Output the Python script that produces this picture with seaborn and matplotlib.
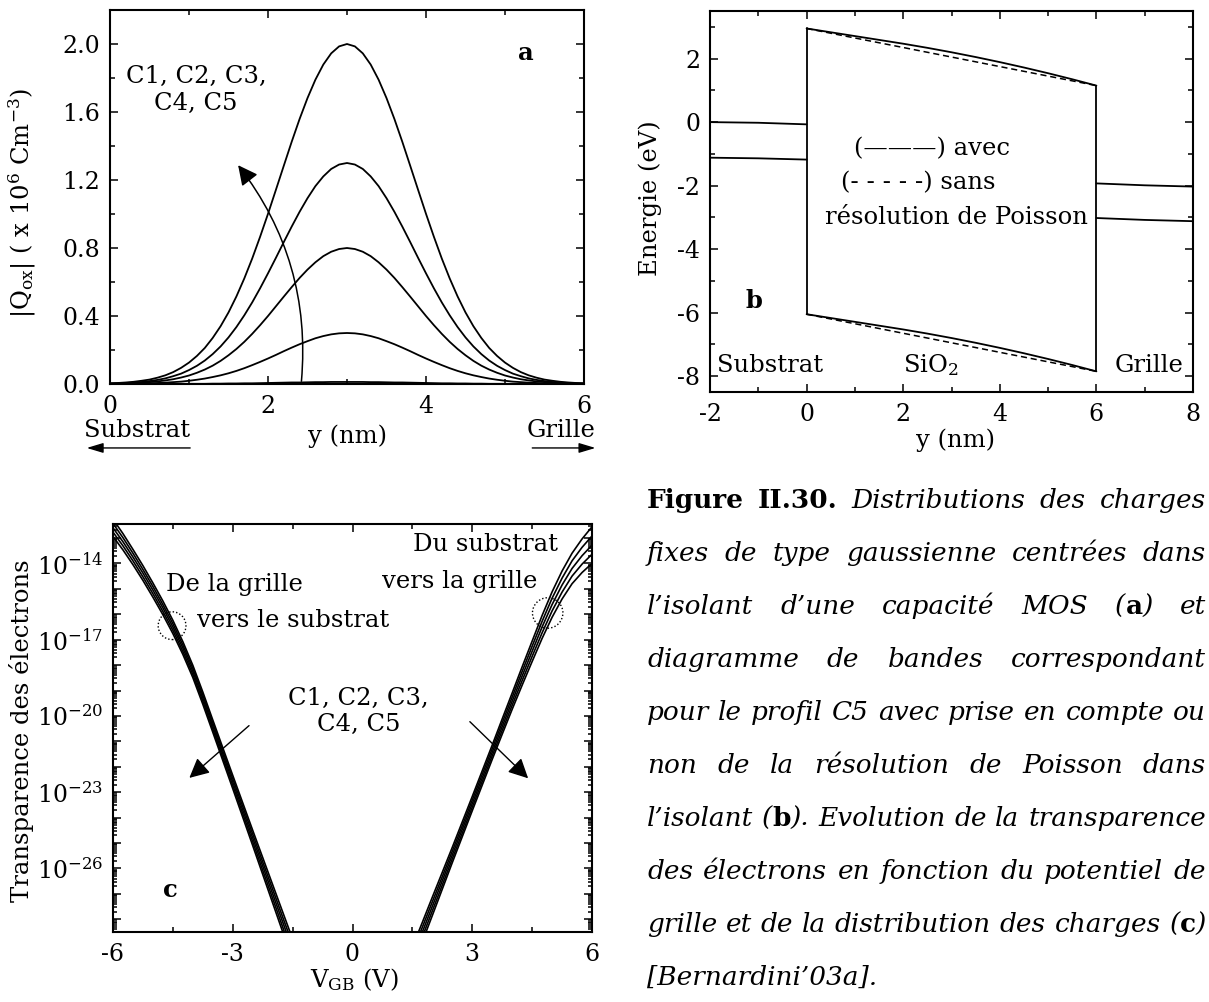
import math
import matplotlib
matplotlib.use("Agg")
import matplotlib.pyplot as plt
import matplotlib.ticker as mticker
from matplotlib.patches import FancyArrowPatch
import seaborn as sns

# ---------------- panel a : gaussian fixed-charge profiles in the oxide
a_y = [0.0, 0.1, 0.2, 0.3, 0.4, 0.5, 0.6, 0.7, 0.8, 0.9, 1.0, 1.1, 1.2, 1.3, 1.4, 1.5,
       1.6, 1.7, 1.8, 1.9, 2.0, 2.1, 2.2, 2.3, 2.4, 2.5, 2.6, 2.7, 2.8, 2.9, 3.0,
       3.1, 3.2, 3.3, 3.4, 3.5, 3.6, 3.7, 3.8, 3.9, 4.0, 4.1, 4.2, 4.3, 4.4, 4.5,
       4.6, 4.7, 4.8, 4.9, 5.0, 5.1, 5.2, 5.3, 5.4, 5.5, 5.6, 5.7, 5.8, 5.9, 6.0]
a_c1 = [0.000, 0.000, 0.000, 0.000, 0.000, 0.000, 0.000, 0.000, 0.000, 0.001, 0.001, 0.001, 0.001, 0.002, 0.002, 0.003,
        0.003, 0.004, 0.004, 0.005, 0.006, 0.007, 0.008, 0.009, 0.009, 0.010, 0.011, 0.011, 0.012, 0.012, 0.012,
        0.012, 0.012, 0.011, 0.011, 0.010, 0.009, 0.009, 0.008, 0.007, 0.006, 0.005, 0.004, 0.004, 0.003, 0.003,
        0.002, 0.002, 0.001, 0.001, 0.001, 0.001, 0.000, 0.000, 0.000, 0.000, 0.000, 0.000, 0.000, 0.000, 0.000]
a_c2 = [0.001, 0.001, 0.001, 0.002, 0.003, 0.004, 0.006, 0.008, 0.011, 0.014, 0.019, 0.025, 0.032, 0.041, 0.051, 0.063,
        0.077, 0.093, 0.111, 0.130, 0.150, 0.171, 0.193, 0.214, 0.234, 0.252, 0.269, 0.282, 0.292, 0.298, 0.300,
        0.298, 0.292, 0.282, 0.269, 0.252, 0.234, 0.214, 0.193, 0.171, 0.150, 0.130, 0.111, 0.093, 0.077, 0.063,
        0.051, 0.041, 0.032, 0.025, 0.019, 0.014, 0.011, 0.008, 0.006, 0.004, 0.003, 0.002, 0.001, 0.001, 0.001]
a_c3 = [0.002, 0.002, 0.004, 0.005, 0.007, 0.011, 0.015, 0.021, 0.028, 0.038, 0.050, 0.066, 0.085, 0.108, 0.136, 0.169,
        0.206, 0.248, 0.295, 0.346, 0.400, 0.457, 0.514, 0.570, 0.624, 0.673, 0.716, 0.752, 0.778, 0.794, 0.800,
        0.794, 0.778, 0.752, 0.716, 0.673, 0.624, 0.570, 0.514, 0.457, 0.400, 0.346, 0.295, 0.248, 0.206, 0.169,
        0.136, 0.108, 0.085, 0.066, 0.050, 0.038, 0.028, 0.021, 0.015, 0.011, 0.007, 0.005, 0.004, 0.002, 0.002]
a_c4 = [0.003, 0.004, 0.006, 0.008, 0.012, 0.017, 0.024, 0.033, 0.046, 0.061, 0.082, 0.107, 0.138, 0.176, 0.221, 0.274,
        0.335, 0.404, 0.480, 0.563, 0.651, 0.742, 0.835, 0.926, 1.013, 1.093, 1.164, 1.221, 1.265, 1.291, 1.300,
        1.291, 1.265, 1.221, 1.164, 1.093, 1.013, 0.926, 0.835, 0.742, 0.651, 0.563, 0.480, 0.404, 0.335, 0.274,
        0.221, 0.176, 0.138, 0.107, 0.082, 0.061, 0.046, 0.033, 0.024, 0.017, 0.012, 0.008, 0.006, 0.004, 0.003]
a_c5 = [0.004, 0.006, 0.009, 0.013, 0.019, 0.026, 0.037, 0.051, 0.070, 0.095, 0.126, 0.165, 0.212, 0.271, 0.340, 0.421,
        0.515, 0.621, 0.738, 0.866, 1.001, 1.142, 1.284, 1.425, 1.559, 1.682, 1.790, 1.879, 1.945, 1.986, 2.000,
        1.986, 1.945, 1.879, 1.790, 1.682, 1.559, 1.425, 1.284, 1.142, 1.001, 0.866, 0.738, 0.621, 0.515, 0.421,
        0.340, 0.271, 0.212, 0.165, 0.126, 0.095, 0.070, 0.051, 0.037, 0.026, 0.019, 0.013, 0.009, 0.006, 0.004]

# ---------------- panel b : band diagram for profile C5
b_x_sub = [-2.0, -1.0, 0.0]
b_cb_sub = [0.0, -0.02, -0.07]
b_vb_sub = [-1.12, -1.14, -1.18]
b_x_ox = [0.0, 0.5, 1.0, 1.5, 2.0, 2.5, 3.0, 3.5, 4.0, 4.5, 5.0, 5.5, 6.0]
b_cb_avec = [2.95, 2.83, 2.71, 2.59, 2.47, 2.34, 2.20, 2.05, 1.89, 1.72, 1.54, 1.35, 1.15]
b_cb_sans = [2.95, 2.80, 2.65, 2.50, 2.35, 2.20, 2.05, 1.90, 1.75, 1.60, 1.45, 1.30, 1.15]
b_vb_avec = [-6.05, -6.17, -6.29, -6.41, -6.53, -6.66, -6.80, -6.95, -7.11, -7.28, -7.46, -7.65, -7.85]
b_vb_sans = [-6.05, -6.20, -6.35, -6.50, -6.65, -6.80, -6.95, -7.10, -7.25, -7.40, -7.55, -7.70, -7.85]
b_x_gate = [6.0, 7.0, 8.0]
b_cb_gate = [-1.93, -1.99, -2.03]
b_vb_gate = [-3.02, -3.08, -3.12]

# ---------------- panel c : electron transparency (log10 of the values)
c_v_neg = [-6.0, -5.75, -5.5, -5.25, -5.0, -4.75, -4.5, -4.25, -4.0, -3.75,
           -3.5, -3.25, -3.0, -2.75, -2.5, -2.25, -2.0, -1.75, -1.5]
c_neg = {
    "C1": [-12.26, -12.83, -13.45, -14.09, -14.77, -15.48, -16.24, -17.08, -18.01, -19.06,
           -20.16, -21.25, -22.34, -23.42, -24.50, -25.57, -26.64, -27.71, -28.78],
    "C2": [-12.43, -12.99, -13.60, -14.24, -14.91, -15.62, -16.37, -17.21, -18.13, -19.18,
           -20.28, -21.38, -22.47, -23.56, -24.65, -25.74, -26.82, -27.91, -28.99],
    "C3": [-12.60, -13.15, -13.75, -14.38, -15.05, -15.75, -16.50, -17.33, -18.25, -19.30,
           -20.40, -21.50, -22.60, -23.70, -24.80, -25.90, -27.00, -28.10, -29.20],
    "C4": [-12.77, -13.31, -13.90, -14.53, -15.19, -15.89, -16.63, -17.46, -18.37, -19.42,
           -20.52, -21.63, -22.73, -23.84, -24.95, -26.07, -27.18, -28.30, -29.41],
    "C5": [-12.94, -13.47, -14.05, -14.67, -15.33, -16.02, -16.76, -17.58, -18.49, -19.54,
           -20.64, -21.75, -22.86, -23.98, -25.10, -26.23, -27.36, -28.49, -29.62],
}
c_v_pos = [1.5, 1.75, 2.0, 2.25, 2.5, 2.75, 3.0, 3.25, 3.5, 3.75,
           4.0, 4.25, 4.5, 4.75, 5.0, 5.25, 5.5, 5.75, 6.0]
c_pos = {
    "C1": [-29.10, -28.12, -27.13, -26.15, -25.17, -24.17, -23.17, -22.16, -21.15, -20.12,
           -19.10, -18.07, -17.06, -16.05, -15.12, -14.30, -13.60, -13.04, -12.56],
    "C2": [-29.30, -28.31, -27.31, -26.32, -25.32, -24.32, -23.31, -22.30, -21.29, -20.27,
           -19.26, -18.25, -17.26, -16.28, -15.37, -14.58, -13.90, -13.37, -12.92],
    "C3": [-29.50, -28.50, -27.49, -26.48, -25.47, -24.46, -23.45, -22.44, -21.43, -20.42,
           -19.42, -18.43, -17.46, -16.50, -15.62, -14.85, -14.20, -13.70, -13.28],
    "C4": [-29.70, -28.69, -27.67, -26.65, -25.62, -24.61, -23.59, -22.58, -21.57, -20.57,
           -19.58, -18.61, -17.66, -16.73, -15.87, -15.13, -14.50, -14.03, -13.64],
    "C5": [-29.90, -28.88, -27.85, -26.81, -25.77, -24.75, -23.73, -22.72, -21.71, -20.72,
           -19.74, -18.79, -17.86, -16.95, -16.12, -15.40, -14.80, -14.36, -14.00],
}
c_circle_v = [-4.52, 4.89]
c_circle_logt = [-16.45, -15.95]

caption = [
    "**Figure** **II.30.** Distributions des charges",
    "fixes de type gaussienne centrées dans",
    "l’isolant d’une capacité MOS (**a**) et",
    "diagramme de bandes correspondant",
    "pour le profil C5 avec prise en compte ou",
    "non de la résolution de Poisson dans",
    "l’isolant (**b**). Evolution de la transparence",
    "des électrons en fonction du potentiel de",
    "grille et de la distribution des charges (**c**)",
    "[Bernardini’03a].",
]

sns.set_style("ticks")
plt.rcParams["font.family"] = ["DejaVu Serif", "DejaVu Sans"]
plt.rcParams["mathtext.fontset"] = "dejavuserif"
plt.rcParams["axes.unicode_minus"] = False
plt.rcParams["axes.linewidth"] = 1.5
plt.rcParams["axes.edgecolor"] = "black"
plt.rcParams["text.color"] = "black"
plt.rcParams["axes.labelcolor"] = "black"
plt.rcParams["xtick.color"] = "black"
plt.rcParams["ytick.color"] = "black"

FS = 17.5      # annotation / label size
TFS = 17       # tick label size
W, H = 1209, 1002
fig = plt.figure(figsize=(W / 100, H / 100), dpi=100)


def px_axes(l, t, r, b):
    return fig.add_axes([l / W, 1 - b / H, (r - l) / W, (b - t) / H])


def style_ticks(ax):
    ax.tick_params(which="both", direction="in", top=True, right=True,
                   labelsize=TFS, colors="black", width=1.1)
    ax.tick_params(which="major", length=6, pad=8)
    ax.tick_params(which="minor", length=3.5)
    ax.tick_params(axis="y", which="major", pad=7)


def line(ax, x, y, **kw):
    sns.lineplot(x=x, y=y, ax=ax, color="black", estimator=None, sort=False,
                 linewidth=kw.pop("linewidth", 1.3), legend=False, **kw)


# ---------------- panel a
ax_a = px_axes(110, 10, 584, 384)
for prof in [a_c1, a_c2, a_c3, a_c4, a_c5]:
    line(ax_a, a_y, prof)
ax_a.set_xlim(0, 6)
ax_a.set_ylim(0, 2.2)
ax_a.set_xticks([0, 2, 4, 6])
ax_a.xaxis.set_minor_locator(mticker.MultipleLocator(1))
ax_a.set_yticks([0.0, 0.4, 0.8, 1.2, 1.6, 2.0])
ax_a.yaxis.set_major_formatter(mticker.FormatStrFormatter("%.1f"))
ax_a.yaxis.set_minor_locator(mticker.MultipleLocator(0.2))
style_ticks(ax_a)
ax_a.set_xlabel("y (nm)", fontsize=FS)
ax_a.xaxis.set_label_coords(0.5, -0.107)
ax_a.set_ylabel(r"|Q$_{\rm ox}$| ( x 10$^{6}$ Cm$^{-3}$)", fontsize=FS)
ax_a.yaxis.set_label_coords(-0.152, 0.484)
ax_a.text(1.09, 1.73, "C1, C2, C3,\nC4, C5", ha="center", va="center",
          multialignment="center", fontsize=FS)
ax_a.text(5.26, 1.95, "a", fontweight="bold", fontsize=FS, ha="center", va="center")
ax_a.add_patch(FancyArrowPatch((2.42, 0.0), (1.6, 1.3), connectionstyle="arc3,rad=0.2",
                               arrowstyle="-|>,head_length=0.6,head_width=0.3",
                               mutation_scale=20, color="black", lw=1.1, clip_on=False))
ax_a.text(-0.055, -0.123, "Substrat", transform=ax_a.transAxes, ha="left", va="center", fontsize=FS)
ax_a.text(1.025, -0.123, "Grille", transform=ax_a.transAxes, ha="right", va="center", fontsize=FS)
ax_a.annotate("", xy=(-0.055, -0.171), xytext=(0.175, -0.171), xycoords="axes fraction",
              arrowprops=dict(arrowstyle="-|>,head_length=0.5,head_width=0.15", color="black",
                              lw=1, mutation_scale=20))
ax_a.annotate("", xy=(1.03, -0.171), xytext=(0.885, -0.171), xycoords="axes fraction",
              arrowprops=dict(arrowstyle="-|>,head_length=0.5,head_width=0.15", color="black",
                              lw=1, mutation_scale=20))

# ---------------- panel b
ax_b = px_axes(710, 11, 1193, 392)
line(ax_b, b_x_sub, b_cb_sub)
line(ax_b, b_x_sub, b_vb_sub)
line(ax_b, b_x_gate, b_cb_gate)
line(ax_b, b_x_gate, b_vb_gate)
line(ax_b, b_x_ox, b_cb_avec)
line(ax_b, b_x_ox, b_vb_avec)
line(ax_b, b_x_ox, b_cb_sans, linestyle=(0, (4, 2.5)), linewidth=1.1)
line(ax_b, b_x_ox, b_vb_sans, linestyle=(0, (4, 2.5)), linewidth=1.1)
line(ax_b, [b_x_ox[0], b_x_ox[0]], [b_vb_avec[0], b_cb_avec[0]])
line(ax_b, [b_x_ox[-1], b_x_ox[-1]], [b_vb_avec[-1], b_cb_avec[-1]])
ax_b.set_xlim(-2, 8)
ax_b.set_ylim(-8.5, 3.5)
ax_b.set_xticks([-2, 0, 2, 4, 6, 8])
ax_b.xaxis.set_minor_locator(mticker.MultipleLocator(1))
ax_b.set_yticks([-8, -6, -4, -2, 0, 2])
ax_b.yaxis.set_minor_locator(mticker.MultipleLocator(1))
style_ticks(ax_b)
ax_b.set_xlabel("y (nm)", fontsize=FS)
ax_b.xaxis.set_label_coords(0.508, -0.097)
ax_b.set_ylabel("Energie (eV)", fontsize=FS)
ax_b.yaxis.set_label_coords(-0.099, 0.51)
ax_b.text(0.99, -0.85, "(———) avec", ha="left", va="center", fontsize=FS)
ax_b.text(0.71, -1.9, "(- - - - -) sans", ha="left", va="center", fontsize=FS)
ax_b.text(0.39, -3.0, "résolution de Poisson", ha="left", va="center", fontsize=FS)
ax_b.text(-1.86, -7.66, "Substrat", ha="left", va="center", fontsize=FS)
ax_b.text(2.0, -7.66, r"SiO$_{2}$", ha="left", va="center", fontsize=FS)
ax_b.text(6.38, -7.66, "Grille", ha="left", va="center", fontsize=FS)
ax_b.text(-1.1, -5.62, "b", fontweight="bold", fontsize=FS, ha="center", va="center")

# ---------------- panel c
ax_c = px_axes(113, 524, 592, 932)
for name in ["C1", "C2", "C3", "C4", "C5"]:
    line(ax_c, c_v_neg, [10 ** v for v in c_neg[name]], linewidth=1.2)
    line(ax_c, c_v_pos, [10 ** v for v in c_pos[name]], linewidth=1.2)
ax_c.set_yscale("log")
ax_c.set_xlim(-6, 6)
ax_c.set_ylim(10 ** -28.5, 10 ** -12.45)
ax_c.set_xticks([-6, -3, 0, 3, 6])
ax_c.xaxis.set_minor_locator(mticker.MultipleLocator(1.5))


def decade_label(v, pos):
    e = round(math.log10(v))
    return r"$10^{%d}$" % e if e % 3 == 1 else ""


ax_c.yaxis.set_major_locator(mticker.LogLocator(base=10, numticks=40))
ax_c.yaxis.set_major_formatter(mticker.FuncFormatter(decade_label))
ax_c.yaxis.set_minor_locator(mticker.LogLocator(base=10, subs=[2, 3, 4, 5, 6, 7, 8, 9], numticks=40))
ax_c.yaxis.set_minor_formatter(mticker.NullFormatter())
style_ticks(ax_c)
ax_c.tick_params(axis="y", which="minor", length=3)
ax_c.set_xlabel(r"V$_{\rm GB}$ (V)", fontsize=FS)
ax_c.xaxis.set_label_coords(0.503, -0.085)
ax_c.set_ylabel("Transparence des électrons", fontsize=FS)
ax_c.yaxis.set_label_coords(-0.165, 0.493)
ax_c.scatter(c_circle_v, [10 ** v for v in c_circle_logt], s=[400, 480], facecolors="none",
             edgecolors="black", linewidths=1, linestyle=(0, (1, 1.5)), zorder=5)
ax_c.text(-4.67, 10 ** -14.84, "De la grille", ha="left", va="center", fontsize=FS)
ax_c.text(-3.9, 10 ** -16.24, "vers le substrat", ha="left", va="center", fontsize=FS)
ax_c.text(1.51, 10 ** -13.24, "Du substrat", ha="left", va="center", fontsize=FS)
ax_c.text(0.74, 10 ** -14.7, "vers la grille", ha="left", va="center", fontsize=FS)
ax_c.text(0.15, 10 ** -19.82, "C1, C2, C3,\nC4, C5", ha="center", va="center",
          multialignment="center", fontsize=FS)
ax_c.text(-4.57, 10 ** -26.84, "c", fontweight="bold", fontsize=FS, ha="center", va="center")
for tail, head in [((-2.54, -20.31), (-4.14, -22.51)), ((2.89, -20.15), (4.45, -22.53))]:
    ax_c.annotate("", xy=(head[0], 10 ** head[1]), xytext=(tail[0], 10 ** tail[1]),
                  arrowprops=dict(arrowstyle="-|>,head_length=0.6,head_width=0.3", color="black",
                                  lw=1, mutation_scale=20))

# ---------------- caption, justified
fig.canvas.draw()
renderer = fig.canvas.get_renderer()
x_left, x_right = 647, 1206
for i, row in enumerate(caption):
    base = 1 - (508 + i * 53) / H
    words = []
    for token in row.split(" "):
        runs = []
        for j, part in enumerate(token.split("**")):
            if part:
                bold = j % 2 == 1
                t = fig.text(0, base, part, fontsize=19, va="baseline", ha="left", color="black",
                             fontweight="bold" if bold else "normal",
                             fontstyle="normal" if bold else "italic")
                runs.append((t, t.get_window_extent(renderer).width))
        words.append(runs)
    widths = [sum(w for _, w in runs) for runs in words]
    if i == len(caption) - 1:
        gap = 8
    else:
        gap = (x_right - x_left - sum(widths)) / (len(words) - 1)
    x = x_left
    for runs, wsum in zip(words, widths):
        xx = x
        for t, w in runs:
            t.set_x(xx / W)
            xx += w
        x += wsum + gap

fig.savefig("out.png", dpi=100)
